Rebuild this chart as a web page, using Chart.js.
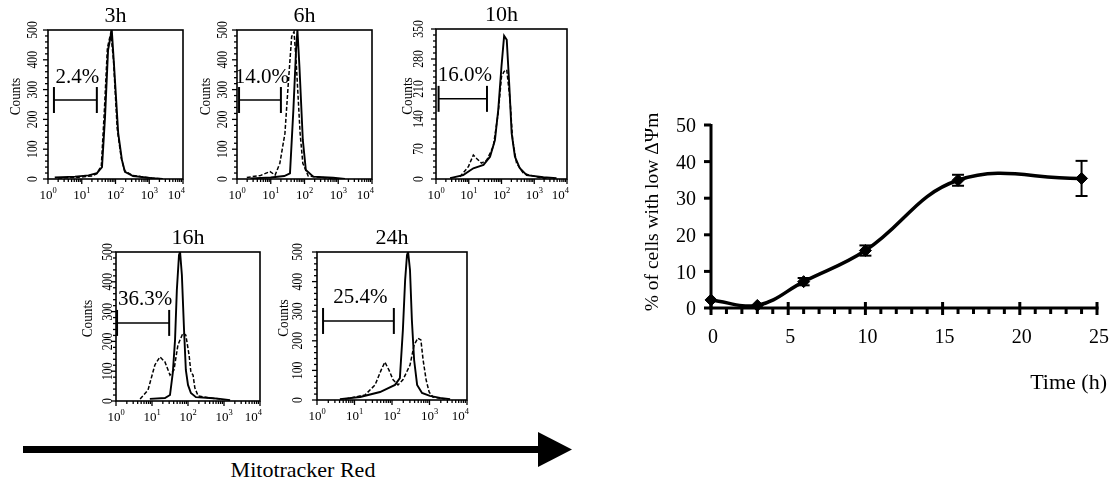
<!DOCTYPE html>
<html>
<head>
<meta charset="utf-8">
<script src="https://cdn.jsdelivr.net/npm/chart.js@4.4.1/dist/chart.umd.min.js"></script>
<style>
  html, body { margin: 0; padding: 0; background: #fff; }
  #fig { position: relative; width: 1112px; height: 482px; overflow: hidden; font-family: 'Liberation Serif', 'Times New Roman', serif; }
  #fig canvas, #arrow { position: absolute; left: 0; top: 0; }
  #mitoLabel { position: absolute; left: 183px; width: 240px; top: 456px; text-align: center; font-size: 22px; line-height: 28px; }
</style>
</head>
<body>
<div id="fig">
  <svg id="arrow" width="1112" height="482">
    <rect x="23" y="446" width="520" height="7" fill="#000"/>
    <polygon points="538,432 572,449.5 538,467" fill="#000"/>
  </svg>
  <div id="mitoLabel">Mitotracker Red</div>
  <canvas id="h0" width="1112" height="482"></canvas>
  <canvas id="h1" width="1112" height="482"></canvas>
  <canvas id="h2" width="1112" height="482"></canvas>
  <canvas id="h3" width="1112" height="482"></canvas>
  <canvas id="h4" width="1112" height="482"></canvas>
  <canvas id="timeCourse" width="1112" height="482"></canvas>
</div>
<script>
const SERIF = "'Liberation Serif', 'Times New Roman', serif";

// ---- flow histograms: [decades on the log axis, counts] ----
const solid3h  = [[0.2,5],[0.8,8],[1.2,12],[1.45,20],[1.6,40],[1.69,208],[1.78,433],[1.89,500],[1.96,376],[2.08,154],[2.19,64],[2.28,24],[2.52,10],[3.08,3],[3.4,0]];
const dashed3h = [[0.3,3],[0.9,6],[1.3,10],[1.45,18],[1.58,45],[1.67,230],[1.76,440],[1.86,490],[1.94,400],[2.05,170],[2.17,70],[2.27,28],[2.5,12],[3.0,4],[3.4,0]];
const solid6h  = [[0.4,2],[1.0,5],[1.4,10],[1.57,19],[1.67,231],[1.75,433],[1.79,500],[1.85,377],[1.95,131],[2.04,30],[2.26,8],[2.85,4],[3.2,0]];
const dashed6h = [[0.29,5],[0.7,12],[0.98,25],[1.13,13],[1.27,53],[1.42,153],[1.52,321],[1.62,478],[1.69,494],[1.75,400],[1.87,153],[1.95,53],[2.11,10],[2.76,2],[3.1,0]];
const solid10h  = [[0.43,2],[0.83,9],[1.14,25],[1.45,33],[1.65,52],[1.8,91],[1.9,161],[2.0,263],[2.08,334],[2.16,325],[2.24,216],[2.31,107],[2.41,52],[2.56,25],[2.77,9],[3.28,4],[3.68,2]];
const dashed10h = [[0.73,5],[0.99,29],[1.14,56],[1.24,48],[1.39,37],[1.55,44],[1.75,76],[1.9,154],[2.0,239],[2.08,251],[2.16,255],[2.26,185],[2.34,91],[2.46,37],[2.67,13],[3.07,5],[3.4,0]];
const solid16h  = [[0.94,7],[1.36,10],[1.5,20],[1.58,97],[1.64,205],[1.69,372],[1.75,490],[1.78,500],[1.83,423],[1.89,238],[1.94,104],[2.0,54],[2.08,27],[2.22,13],[2.61,10],[2.89,7],[3.17,3]];
const dashed16h = [[0.67,7],[0.89,37],[1.08,121],[1.22,148],[1.36,131],[1.5,87],[1.61,104],[1.72,188],[1.86,228],[1.94,221],[2.03,154],[2.08,97],[2.14,87],[2.19,44],[2.28,17],[2.61,10],[2.89,7]];
const solid24h  = [[0.61,3],[1.15,10],[1.68,27],[2.08,51],[2.21,74],[2.29,236],[2.35,405],[2.4,490],[2.43,500],[2.48,439],[2.53,270],[2.59,135],[2.67,51],[2.8,24],[3.01,14],[3.28,7],[3.55,3]];
const dashed24h = [[0.75,3],[1.28,17],[1.55,51],[1.71,101],[1.81,128],[1.92,101],[2.03,68],[2.16,51],[2.29,68],[2.48,118],[2.59,186],[2.69,209],[2.77,203],[2.83,135],[2.91,68],[2.99,27],[3.09,10],[3.41,3]];

const panelTitles = ['3h', '6h', '10h', '16h', '24h'];
const countMax  = [500, 500, 350, 500, 500];
const countStep = [100, 100, 70, 100, 100];
const gateLabels = ['2.4%', '14.0%', '16.0%', '36.3%', '25.4%'];
const gateLow   = [1.5, 1.15, 1.2, 1.07, 1.45];
const gateHigh  = [28, 20, 36, 30, 112];
const gateCount = [265, 265, 187, 262, 267];

// ---- time course ----
const hours  = [0, 3, 6, 10, 16, 24];
const lowPct = [2.2, 0.7, 7.2, 15.7, 34.9, 35.4];
const errPct = [0, 0, 1.0, 1.4, 1.5, 4.8];
const pctTicks = [0, 10, 20, 30, 40, 50];

// page layout of the histogram frames
const frames = [
  { l: 48,  t: 30,  r: 183, b: 179, tickDx: -15, countsDx: -32 },
  { l: 237, t: 30,  r: 372, b: 179, tickDx: -14, countsDx: -31 },
  { l: 436, t: 29,  r: 567, b: 179, tickDx: -17, countsDx: -28 },
  { l: 116, t: 252, r: 260, b: 401, tickDx: -8,  countsDx: -28 },
  { l: 317, t: 252, r: 467, b: 400, tickDx: -19, countsDx: -33 },
];

function seg(ctx, x1, y1, x2, y2) {
  ctx.beginPath(); ctx.moveTo(x1, y1); ctx.lineTo(x2, y2); ctx.stroke();
}

// rotated text, squeezed along the reading direction like the scanned figure
function upText(ctx, txt, x, y, size, squeeze) {
  ctx.save();
  ctx.translate(x, y);
  ctx.rotate(-Math.PI / 2);
  ctx.scale(squeeze, 1);
  ctx.font = size + 'px ' + SERIF;
  ctx.textAlign = 'center';
  ctx.textBaseline = 'middle';
  ctx.fillText(txt, 0, 0);
  ctx.restore();
}

const histoFrame = {
  id: 'histoFrame',
  afterDraw(chart, _args, o) {
    const { ctx, chartArea: a, scales: { x, y } } = chart;
    ctx.save();
    ctx.strokeStyle = '#000';
    ctx.fillStyle = '#000';

    // log x ticks + 10^k labels
    ctx.lineWidth = 1.3;
    for (let k = 0; k <= 4; k++) {
      const px = x.getPixelForValue(10 ** k);
      seg(ctx, px, a.bottom, px, a.bottom + 5);
      if (k < 4) {
        for (let m = 2; m <= 9; m++) {
          const mx = x.getPixelForValue(m * 10 ** k);
          seg(ctx, mx, a.bottom, mx, a.bottom + 3);
        }
      }
      ctx.font = '13px ' + SERIF;
      const wb = ctx.measureText('10').width;
      ctx.font = '8.5px ' + SERIF;
      const ws = ctx.measureText(String(k)).width;
      let left = px - (wb + ws) / 2;
      if (k === 4) left = a.right + 2 - (wb + ws);
      ctx.textAlign = 'left';
      ctx.textBaseline = 'alphabetic';
      ctx.font = '13px ' + SERIF;
      ctx.fillText('10', left, a.bottom + 20);
      ctx.font = '8.5px ' + SERIF;
      ctx.fillText(String(k), left + wb, a.bottom + 14);
    }

    // y ticks with rotated labels
    for (let i = 0; i <= 25; i++) {
      const v = i * o.step / 5;
      const py = y.getPixelForValue(v);
      const major = i % 5 === 0;
      seg(ctx, a.left - (major ? 5 : 3), py, a.left, py);
      if (major) upText(ctx, String(Math.round(v)), a.left + o.tickDx, py, 15, 0.78);
    }
    upText(ctx, 'Counts', a.left + o.countsDx, (a.top + a.bottom) / 2 - 8, 15, 0.88);

    // frame
    ctx.lineWidth = 1.6;
    ctx.strokeRect(a.left, a.top, a.right - a.left, a.bottom - a.top);

    // gate marker
    const g1 = x.getPixelForValue(o.gateLow);
    const g2 = x.getPixelForValue(o.gateHigh);
    const gy = y.getPixelForValue(o.gateCount);
    ctx.lineWidth = 1.5;
    seg(ctx, g1, gy, g2, gy);
    ctx.lineWidth = 2;
    seg(ctx, g1, gy - 13, g1, gy + 13);
    seg(ctx, g2, gy - 13, g2, gy + 13);
    ctx.font = '21px ' + SERIF;
    ctx.textAlign = 'center';
    ctx.textBaseline = 'middle';
    ctx.fillText(o.gateLabel, (g1 + g2) / 2 + 2, gy - 23);

    // title
    ctx.font = '22px ' + SERIF;
    ctx.fillText(o.title, (a.left + a.right) / 2, a.top - 14);
    ctx.restore();
  }
};

const solids  = [solid3h, solid6h, solid10h, solid16h, solid24h];
const dasheds = [dashed3h, dashed6h, dashed10h, dashed16h, dashed24h];
const toPts = arr => arr.map(([dec, c]) => ({ x: 10 ** dec, y: c }));

frames.forEach((f, i) => {
  new Chart(document.getElementById('h' + i), {
    type: 'line',
    data: {
      datasets: [
        { data: toPts(dasheds[i]), borderColor: '#000', borderWidth: 1.5, borderDash: [4, 2], pointRadius: 0, tension: 0 },
        { data: toPts(solids[i]), borderColor: '#000', borderWidth: 1.9, pointRadius: 0, tension: 0 },
      ]
    },
    options: {
      responsive: false,
      animation: false,
      events: [],
      layout: { padding: { left: f.l, top: f.t, right: 1112 - f.r, bottom: 482 - f.b } },
      plugins: {
        legend: { display: false },
        tooltip: { enabled: false },
        histoFrame: {
          title: panelTitles[i], step: countStep[i],
          gateLow: gateLow[i], gateHigh: gateHigh[i], gateCount: gateCount[i], gateLabel: gateLabels[i],
          tickDx: f.tickDx, countsDx: f.countsDx,
        }
      },
      scales: {
        x: { type: 'logarithmic', min: 1, max: 10000, display: false },
        y: { type: 'linear', min: 0, max: countMax[i], display: false },
      }
    },
    plugins: [histoFrame]
  });
});

// ---- right-hand time course ----
const timeAxes = {
  id: 'timeAxes',
  beforeDatasetsDraw(chart) {
    const { ctx, chartArea: a, scales: { x, y } } = chart;
    ctx.save();
    ctx.strokeStyle = '#000';
    ctx.fillStyle = '#000';
    ctx.lineWidth = 3;
    seg(ctx, a.left, a.top - 1, a.left, a.bottom + 1.5);
    ctx.font = '20px ' + SERIF;
    ctx.textAlign = 'right';
    ctx.textBaseline = 'middle';
    pctTicks.forEach(v => {
      const py = y.getPixelForValue(v);
      seg(ctx, a.left - 7, py, a.left, py);
      ctx.fillText(String(v), a.left - 15, py + 2);
    });
    seg(ctx, a.left - 1.5, a.bottom, a.right + 1.5, a.bottom);
    ctx.textAlign = 'center';
    for (let t = 0; t <= 25; t++) {
      const px = x.getPixelForValue(t);
      if (t % 5 === 0) {
        seg(ctx, px, a.bottom - 6, px, a.bottom + 7);
        ctx.fillText(String(t), px + 2, a.bottom + 30);
      } else {
        seg(ctx, px, a.bottom, px, a.bottom + 6);
      }
    }
    ctx.font = '22px ' + SERIF;
    ctx.textAlign = 'right';
    ctx.fillText('Time (h)', 1107, 383);
    ctx.save();
    ctx.translate(653, 212);
    ctx.rotate(-Math.PI / 2);
    ctx.font = '19.5px ' + SERIF;
    ctx.textAlign = 'center';
    ctx.fillText('% of cells with low \u0394\u03A8m', 0, 0);
    ctx.restore();
    ctx.restore();
  },
  afterDatasetsDraw(chart) {
    const { ctx, scales: { x, y } } = chart;
    ctx.save();
    ctx.strokeStyle = '#000';
    ctx.lineWidth = 2;
    hours.forEach((h, i) => {
      if (!errPct[i]) return;
      const px = x.getPixelForValue(h);
      const hi = y.getPixelForValue(lowPct[i] + errPct[i]);
      const lo = y.getPixelForValue(lowPct[i] - errPct[i]);
      seg(ctx, px, hi, px, lo);
      seg(ctx, px - 6, hi, px + 6, hi);
      seg(ctx, px - 6, lo, px + 6, lo);
    });
    ctx.restore();
  }
};

new Chart(document.getElementById('timeCourse'), {
  type: 'line',
  data: {
    datasets: [{
      data: hours.map((h, i) => ({ x: h, y: lowPct[i] })),
      borderColor: '#000',
      backgroundColor: '#000',
      borderWidth: 3.5,
      tension: 0.4,
      pointStyle: 'rectRot',
      pointRadius: 6,
      pointBorderWidth: 1,
      clip: false,
    }]
  },
  options: {
    responsive: false,
    animation: false,
    events: [],
    layout: { padding: { left: 711, top: 125, right: 1112 - 1097, bottom: 482 - 308 } },
    plugins: { legend: { display: false }, tooltip: { enabled: false } },
    scales: {
      x: { type: 'linear', min: 0, max: 25, display: false },
      y: { type: 'linear', min: 0, max: 50, display: false },
    }
  },
  plugins: [timeAxes]
});
</script>
</body>
</html>
